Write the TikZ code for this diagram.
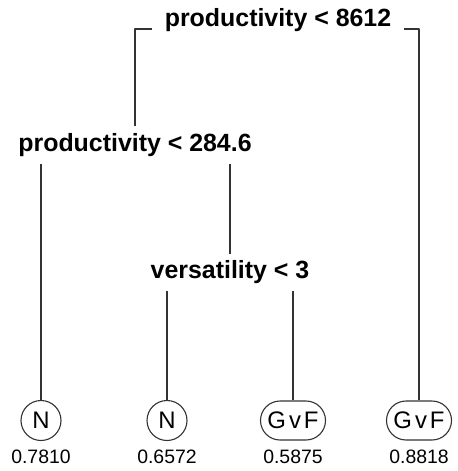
\documentclass[tikz,border=0pt]{standalone}
\usepackage{fontspec}
\setmainfont{Liberation Sans}
\usepackage{tikz}
\usetikzlibrary{shapes.misc}

\begin{document}
\begin{tikzpicture}[>=latex,line join=bevel,x=1bp,y=-1bp,
  split/.style={font=\fontsize{25}{30}\selectfont\bfseries,inner xsep=13bp,inner ysep=7bp},
  leafN/.style={circle,draw=black!80,line width=1.1bp,minimum size=40bp,inner sep=0bp,font=\fontsize{24}{28}\selectfont},
  leafG/.style={rounded rectangle,draw=black!80,line width=1.1bp,minimum height=39bp,minimum width=73bp,inner xsep=4bp,font=\fontsize{24}{28}\selectfont},
  val/.style={font=\fontsize{19.5}{23}\selectfont,inner sep=0bp},
  branch/.style={line width=1.2bp,black!80}]
\useasboundingbox (0,0) rectangle (458,471);
%%
\node (split_0) at (278,27) [split,anchor=base] {productivity < 8612};
  \node (split_1) at (135,145) [split] {productivity < 284.6};
  \node (split_2) at (230,272.5) [split] {versatility < 3};
  \node (leaf_1) at (41,420.5) [leafN] {N};
  \node (leaf_2) at (167,420.5) [leafN] {N};
  \node (leaf_3) at (293,420.5) [leafG] {G\kern3bp v\kern3bp F};
  \node (leaf_4) at (419,420.5) [leafG] {G\kern3bp v\kern3bp F};
  \node (value_1) at (41,457) [val] {0.7810};
  \node (value_2) at (167,457) [val] {0.6572};
  \node (value_3) at (293,457) [val] {0.5875};
  \node (value_4) at (419,457) [val] {0.8818};
%
  \draw [branch] (split_1.north) |- ([yshift=-2bp]split_0.base west);
  \draw [branch] ([yshift=-2bp]split_0.base east) -| (leaf_4.north);
  \draw [branch] (leaf_1 |- split_1.south) -- (leaf_1.north);
  \draw [branch] (split_2 |- split_1.south) -- (split_2.north);
  \draw [branch] (leaf_2 |- split_2.south) -- (leaf_2.north);
  \draw [branch] (leaf_3 |- split_2.south) -- (leaf_3.north);
%
\end{tikzpicture}
\end{document}
